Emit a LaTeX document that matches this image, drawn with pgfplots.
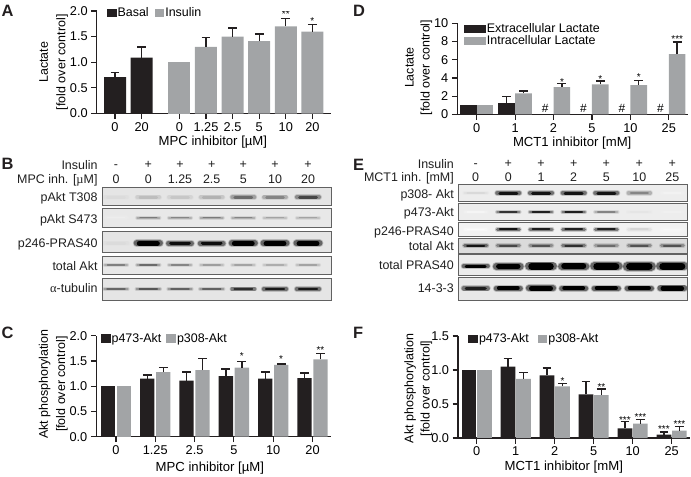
\documentclass[border=0pt]{standalone}
\usepackage{fontspec}
\setmainfont{Liberation Sans}
\newfontfamily\symfont{Liberation Serif}
\usepackage{pgfplots}
\pgfplotsset{compat=1.18}
\definecolor{barblack}{HTML}{231F20}
\definecolor{bargray}{HTML}{A2A4A6}

\newcommand\fs{\fontsize{12.5}{17.5}\selectfont}
\newcommand\fl{\fontsize{13.2}{16}\selectfont}
\newcommand\fstar{\fontsize{10}{12}\selectfont}

\pgfplotsset{
  panel/.style={
    scale only axis, anchor=south west,
    axis x line=bottom, axis y line=left,
    axis line style={-, line width=1.3bp, draw=barblack},
    tick align=outside, tick style={draw=barblack, line width=1.2bp},
    major tick length=5.5bp, xtick pos=bottom,
    ymin=0, enlarge y limits=false,
    font=\fs, tick label style={font=\fontsize{12.8}{15}\selectfont},
    /pgf/number format/assume math mode=true,
    xlabel style={font=\fl}, ylabel style={font=\fs, align=center},
    ybar, bar width=14.3bp,
    legend cell align=left,
    legend image code/.code={\fill[##1] (0bp,-4.4bp) rectangle (9.6bp,4.4bp);},
  },
  ylab1/.style={/pgf/number format/.cd, fixed, fixed zerofill, precision=1},
  blk/.style={fill=barblack, draw=none},
  gry/.style={fill=bargray, draw=none},
  err/.style={error bars/.cd, y dir=plus, y explicit,
    error bar style={draw=barblack, line width=1.3bp},
    error mark options={draw=barblack, mark size=4.4bp, line width=1.3bp, rotate=90}},
  blot/.style={
    scale only axis, anchor=south west, xtick=\empty, ytick=\empty,
    axis line style={draw=black!62, line width=1bp}, axis on top,
  },
}

% one western blot strip: left, right, top, bottom, background grey, bands
\newcommand\blotrow[6]{%
  \pgfmathsetmacro\bw{#2-#1}\pgfmathsetmacro\bh{#4-#3}%
  \edef\blotopen{\noexpand\begin{axis}[blot, at={(#1bp,-#4bp)}, width=\bw bp, height=\bh bp,
    xmin=#1, xmax=#2, ymin=-#4, ymax=-#3, axis background/.style={fill=black!#5}]}%
  \blotopen #6\end{axis}}

% a band: x, y, half length, thickness, darkness
\newcommand\band[5]{%
  \pgfmathsetmacro\xa{#1-#3}\pgfmathsetmacro\xb{#1+#3}%
  \pgfmathsetmacro\xc{#1-#3+2.5}\pgfmathsetmacro\xd{#1+#3-2.5}%
  \pgfmathsetmacro\wa{#4+3}\pgfmathsetmacro\wb{#4+1.3}%
  \edef\temp{%
    \noexpand\addplot[forget plot, no markers, line cap=round, draw=black!#5, opacity=.2, line width=\wa bp] coordinates {(\xa,-#2) (\xb,-#2)};
    \noexpand\addplot[forget plot, no markers, line cap=round, draw=black!#5, opacity=.45, line width=\wb bp] coordinates {(\xa,-#2) (\xb,-#2)};
    \noexpand\addplot[forget plot, no markers, line cap=round, draw=black!#5, line width=#4bp] coordinates {(\xc,-#2) (\xd,-#2)};}%
  \temp}

\newcommand\bandsB[3]{\foreach \x/\t/\d [count=\i] in {#3}{%
  \pgfmathsetmacro\lx{{116,148.3,180,211.7,243.3,275,308}[\i-1]}\band{\lx}{#1}{#2}{\t}{\d}}}
\newcommand\bandsE[3]{\foreach \x/\t/\d [count=\i] in {#3}{%
  \pgfmathsetmacro\lx{{475.7,508.3,541,573.7,606.3,639.3,672.3}[\i-1]}\band{\lx}{#1}{#2}{\t}{\d}}}

% text placed by image position
\newcommand\lab[4]{\node[anchor=#3, inner sep=0pt, font=\fs, text=black!88] at (#1bp,-#2bp) {#4};}
\newcommand\letter[3]{\node[anchor=base west, inner sep=0pt, font=\fontsize{16.5}{18}\selectfont\bfseries, text=barblack] at (#1bp,-#2bp) {#3};}

\begin{document}
\begin{tikzpicture}
\path[use as bounding box] (0,0) rectangle (691bp,-477bp);

\letter{1.5}{16.7}{A}
\letter{1.5}{169.3}{B}
\letter{1.5}{338}{C}
\letter{353}{16.7}{D}
\letter{353}{170}{E}
\letter{353}{338.3}{F}

% A
\begin{axis}[panel, at={(96.7bp,-113.5bp)}, width=234.3bp, height=102.5bp,
  xmin=-0.688, xmax=8.12, ymax=2, bar width=22bp,
  xtick={0,1,2.42,3.42,4.42,5.42,6.42,7.42},
  xticklabels={0,20,0,1.25,2.5,5,10,20},
  ytick={0,0.5,1,1.5,2}, yticklabel style={ylab1},
  xlabel={MPC inhibitor [µM]},
  ylabel={Lactate\\{[}fold over control{]}},
  xlabel style={at={([yshift=-29bp]axis description cs:0.496,0)}, anchor=center},
  ylabel style={at={([xshift=-43bp]axis description cs:0,0.5)}, anchor=center},
  legend columns=2,
  legend style={at={(0.044,0.98)}, anchor=west, draw=none, fill=none, inner sep=0pt, outer sep=0pt,
    nodes={inner sep=1pt}, /tikz/column 2/.style={column sep=5bp}},
]
\addplot[blk, bar shift=0bp, err] coordinates {(0,0.71) +- (0,0.09) (1,1.09) +- (0,0.21)};
\addlegendentry{Basal}
\addplot[gry, bar shift=0bp, err] coordinates {(3.42,1.3) +- (0,0.18) (4.42,1.5) +- (0,0.17) (5.42,1.41) +- (0,0.14) (6.42,1.7) +- (0,0.15) (7.42,1.6) +- (0,0.13)};
\addlegendentry{Insulin}
\addplot[gry, bar shift=0bp, forget plot] coordinates {(2.42,1.0)};
\node[anchor=base, inner sep=0pt, yshift=-6bp, font=\fstar] at (axis cs:6.42,1.99) {**};
\node[anchor=base, inner sep=0pt, yshift=-6bp, font=\fstar] at (axis cs:7.42,1.86) {*};
\end{axis}

% D
\begin{axis}[panel, at={(457.3bp,-114.3bp)}, width=230.7bp, height=91bp,
  xmin=-0.505, xmax=5.5, ymax=10, bar width=16.7bp,
  xtick={0,1,2,3,4,5}, xticklabels={0,1,2,5,10,25},
  ytick={0,2,4,6,8,10},
  xlabel={MCT1 inhibitor [mM]},
  ylabel={Lactate\\{[}fold over control{]}},
  xlabel style={at={([yshift=-28.4bp]axis description cs:0.498,0)}, anchor=center},
  ylabel style={at={([xshift=-38.6bp]axis description cs:0,0.514)}, anchor=center,
    font=\fontsize{12.5}{16}\selectfont},
  legend image code/.code={\fill[#1] (0bp,-3.9bp) rectangle (21.7bp,3.9bp);},
  legend style={at={(0.03,0.872)}, anchor=west, draw=none, fill=none, inner sep=0pt, outer sep=0pt,
    nodes={inner sep=1pt}, /tikz/column 0/.style={column sep=8bp}, row sep=-1bp},
]
\addplot[blk, bar shift=-8.35bp, err] coordinates {(1,1.2) +- (0,0.75)};
\addlegendentry{Extracellular Lactate}
\addplot[gry, bar shift=8.35bp, err] coordinates {(1,2.3) +- (0,0.25) (2,3.0) +- (0,0.35) (3,3.3) +- (0,0.35) (4,3.2) +- (0,0.55) (5,6.6) +- (0,1.35)};
\addlegendentry{Intracellular Lactate}
\addplot[blk, bar shift=-8.35bp, forget plot] coordinates {(0,1)};
\addplot[gry, bar shift=8.35bp, forget plot] coordinates {(0,1)};
\foreach \xx/\yy/\ss in {2.22/3.85/*,3.22/4.2/*,4.22/4.32/*,5.22/8.53/***}{
  \edef\temp{\noexpand\node[anchor=base, inner sep=0pt, yshift=-6bp, font=\noexpand\fstar] at (axis cs:\xx,\yy) {\ss};}\temp}
\foreach \xx in {1.78,2.78,3.78,4.78}{
  \edef\temp{\noexpand\node[anchor=base, inner sep=0pt, yshift=1.5bp, font=\noexpand\fontsize{12}{14}\noexpand\selectfont] at (axis cs:\xx,0) {\noexpand\#};}\temp}
\end{axis}

% C
\begin{axis}[panel, at={(96.3bp,-436.7bp)}, width=234.7bp, height=101bp,
  xmin=-0.5, xmax=5.47, ymax=2,
  xtick={0,1,2,3,4,5}, xticklabels={0,1.25,2.5,5,10,20},
  ytick={0,0.5,1,1.5,2}, yticklabel style={ylab1},
  xlabel={MPC inhibitor [µM]},
  ylabel={Akt phosphorylation\\{[}fold over control{]}},
  xlabel style={at={([yshift=-31bp]axis description cs:0.484,0)}, anchor=center},
  ylabel style={at={([xshift=-43bp]axis description cs:0,0.52)}, anchor=center},
  legend columns=2,
  legend style={at={(0.02,0.97)}, anchor=west, draw=none, fill=none, inner sep=0pt, outer sep=0pt,
    nodes={inner sep=1pt}, /tikz/column 2/.style={column sep=4bp}},
]
\addplot[blk, bar shift=-8bp, err] coordinates {(1,1.15) +- (0,0.07) (2,1.11) +- (0,0.17) (3,1.2) +- (0,0.14) (4,1.15) +- (0,0.13) (5,1.16) +- (0,0.1)};
\addlegendentry{p473-Akt}
\addplot[gry, bar shift=8bp, err] coordinates {(1,1.28) +- (0,0.09) (2,1.32) +- (0,0.23) (3,1.37) +- (0,0.12) (4,1.42) +- (0,0.02) (5,1.53) +- (0,0.12)};
\addlegendentry{p308-Akt}
\addplot[blk, bar shift=-8bp, forget plot] coordinates {(0,1)};
\addplot[gry, bar shift=8bp, forget plot] coordinates {(0,1)};
\foreach \xx/\yy/\ss in {3.2/1.64/*,4.2/1.585/*,5.2/1.77/**}{
  \edef\temp{\noexpand\node[anchor=base, inner sep=0pt, yshift=-6bp, font=\noexpand\fstar] at (axis cs:\xx,\yy) {\ss};}\temp}
\end{axis}

% F
\begin{axis}[panel, at={(458bp,-438bp)}, width=232bp, height=102bp,
  xmin=-0.48, xmax=5.47, ymax=1.5, bar width=14.7bp,
  xtick={0,1,2,3,4,5}, xticklabels={0,1,2,5,10,25},
  ytick={0,0.5,1,1.5}, yticklabel style={ylab1},
  xlabel={MCT1 inhibitor [mM]},
  ylabel={Akt phosphorylation\\{[}fold over control{]}},
  xlabel style={at={([yshift=-28.7bp]axis description cs:0.456,0)}, anchor=center},
  ylabel style={at={([xshift=-39.7bp]axis description cs:0,0.487)}, anchor=center,
    font=\fontsize{12.5}{16.5}\selectfont},
  legend columns=2,
  legend style={at={(0.045,0.97)}, anchor=west, draw=none, fill=none, inner sep=0pt, outer sep=0pt,
    nodes={inner sep=1pt}, /tikz/column 2/.style={column sep=8bp}},
]
\addplot[blk, bar shift=-7.7bp, err] coordinates {(1,1.05) +- (0,0.12) (2,0.92) +- (0,0.11) (3,0.64) +- (0,0.19) (4,0.14) +- (0,0.1) (5,0.05) +- (0,0.04)};
\addlegendentry{p473-Akt}
\addplot[gry, bar shift=7.7bp, err] coordinates {(1,0.87) +- (0,0.09) (2,0.76) +- (0,0.04) (3,0.63) +- (0,0.09) (4,0.21) +- (0,0.06) (5,0.11) +- (0,0.06)};
\addlegendentry{p308-Akt}
\addplot[blk, bar shift=-7.7bp, forget plot] coordinates {(0,1)};
\addplot[gry, bar shift=7.7bp, forget plot] coordinates {(0,1)};
\foreach \xx/\yy/\ss in {2.2/0.878/*,3.2/0.79/**,3.8/0.304/***,4.2/0.348/***,4.8/0.176/***,5.2/0.245/***}{
  \edef\temp{\noexpand\node[anchor=base, inner sep=0pt, yshift=-6bp, font=\noexpand\fstar] at (axis cs:\xx,\yy) {\ss};}\temp}
\end{axis}

% B blots
\blotrow{102.3}{331.7}{187.3}{205.7}{10}{\bandsB{197.3}{11}{0/2.5/14,0/2.5/26,0/2.5/22,0/2.5/30,0/2.8/58,0/2.5/48,0/3/72}}
\blotrow{102.3}{331.7}{208.7}{227.3}{9}{\bandsB{217.7}{11}{0/1.5/7,0/1.1/52,0/1.1/48,0/1.1/52,0/1.1/48,0/1.1/36,0/1.1/36}}
\blotrow{102.3}{331.7}{231.3}{252}{10}{\bandsB{243.3}{11.5}{0/2.5/14,0/5/100,0/3.6/95,0/3.6/95,0/4.8/100,0/4.8/100,0/4.8/100}}
\blotrow{102.3}{331.7}{256.3}{274.3}{9}{\bandsB{265}{11}{0/1.3/50,0/1.4/58,0/1.3/48,0/1.3/38,0/1.3/36,0/1.3/32,0/1.3/36}}
\blotrow{102.3}{331.7}{278}{300}{10}{\bandsB{289}{11.5}{0/1.4/60,0/1.4/66,0/1.4/62,0/1.4/62,0/1.8/82,0/2.2/90,0/2.2/90}}

% E blots
\blotrow{458.3}{687.7}{184.7}{201.7}{7}{\bandsE{193}{11}{0/1.6/15,0/3/92,0/3/92,0/3/92,0/3/92,0/2.2/48,0/1.5/5}}
\blotrow{458.3}{687.7}{203.3}{220}{7}{\bandsE{212}{11}{0/1.2/4,0/1.4/80,0/1.6/88,0/1.6/88,0/1.4/48,0/1.5/10,0/1.5/6}}
\blotrow{458.3}{687.7}{222}{236.7}{5}{\bandsE{229.3}{11}{0/1.2/2,0/1.8/92,0/1.8/88,0/1.8/88,0/1.8/88,0/1.8/16,0/1.5/3}}
\blotrow{458.3}{687.7}{238}{253}{14}{\bandsE{245.7}{11}{0/2.2/92,0/1.6/72,0/1.6/68,0/1.8/82,0/1.6/58,0/1.6/68,0/1.6/68}}
\blotrow{458.3}{687.7}{254.7}{275.3}{8}{\bandsE{266.3}{12}{0/3/100,0/5.5/100,0/6.5/100,0/6/100,0/7/100,0/7.5/100,0/7/100}}
\blotrow{458.3}{687.7}{277.3}{300.7}{9}{\bandsE{288.3}{12}{0/3.2/88,0/3.8/100,0/5/100,0/3.8/100,0/4.2/100,0/4.2/100,0/4.6/100}}

% labels of B
\lab{97.7}{169.3}{base east}{Insulin}
\lab{97.7}{183.3}{base east}{MPC inh. [{\symfont µ}M]}
\lab{97.7}{201.7}{base east}{pAkt T308}
\lab{97.7}{223.7}{base east}{pAkt S473}
\lab{97.7}{247.7}{base east}{p246-PRAS40}
\lab{97.7}{270}{base east}{total Akt}
\lab{97.7}{292.7}{base east}{{\symfont α}-tubulin}
\lab{116}{168}{base}{-}
\lab{148.3}{168}{base}{+}
\lab{180}{168}{base}{+}
\lab{211.7}{168}{base}{+}
\lab{243.3}{168}{base}{+}
\lab{275}{168}{base}{+}
\lab{308}{168}{base}{+}
\lab{116}{183.3}{base}{0}
\lab{148.3}{183.3}{base}{0}
\lab{180}{183.3}{base}{1.25}
\lab{211.7}{183.3}{base}{2.5}
\lab{243.3}{183.3}{base}{5}
\lab{275}{183.3}{base}{10}
\lab{308}{183.3}{base}{20}

% labels of E
\lab{454}{168}{base east}{Insulin}
\lab{454}{181.7}{base east}{MCT1 inh. [mM]}
\lab{454}{198.3}{base east}{p308- Akt}
\lab{454}{216.7}{base east}{p473-Akt}
\lab{454}{235}{base east}{p246-PRAS40}
\lab{454}{250}{base east}{total Akt}
\lab{454}{269.3}{base east}{total PRAS40}
\lab{454}{292.7}{base east}{14-3-3}
\lab{475.7}{167}{base}{-}
\lab{508.3}{167}{base}{+}
\lab{541}{167}{base}{+}
\lab{573.7}{167}{base}{+}
\lab{606.3}{167}{base}{+}
\lab{639.3}{167}{base}{+}
\lab{672.3}{167}{base}{+}
\lab{475.7}{181.7}{base}{0}
\lab{508.3}{181.7}{base}{0}
\lab{541}{181.7}{base}{1}
\lab{573.7}{181.7}{base}{2}
\lab{606.3}{181.7}{base}{5}
\lab{639.3}{181.7}{base}{10}
\lab{672.3}{181.7}{base}{25}
\end{tikzpicture}
\end{document}
